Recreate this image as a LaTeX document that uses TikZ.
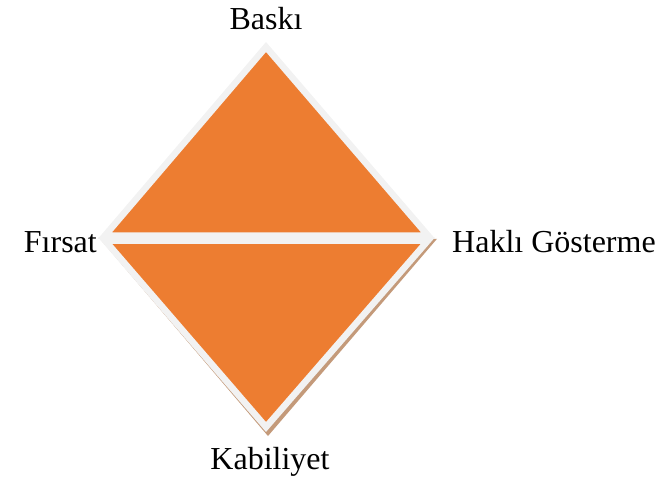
\documentclass[tikz,border=0pt]{standalone}
\usepackage{fontspec}
\setmainfont{Liberation Serif}
\definecolor{orng}{HTML}{ED7D31}
\definecolor{edge}{HTML}{F2F2F2}
\definecolor{shad}{HTML}{C49A7A}
\begin{document}
\begin{tikzpicture}[x=1pt,y=-1pt,
  tri/.style={fill=orng,draw=edge,line width=6.5pt,line join=miter},
  lbl/.style={font=\fontsize{32}{38}\selectfont,inner sep=0pt}]
\useasboundingbox (0,0) rectangle (659,482);
% shadow of lower triangle
\fill[shad] (107,242) -- (430,242) -- (268,431) -- cycle;
\draw[shad,line width=6.5pt,line join=miter] (107,242) -- (430,242) -- (268,431) -- cycle;
% triangles
\draw[tri] (266,47) -- (428,235.5) -- (105,235.5) -- cycle;
\draw[tri] (105,240.5) -- (428,240.5) -- (266,427) -- cycle;
% labels
\node[lbl] (b) at (266,19) {Baskı};
\node[lbl,anchor=east] (f) at (97,242) {Fırsat};
\node[lbl,anchor=west] (h) at (452,242) {Haklı Gösterme};
\node[lbl] (k) at (270,462) {Kabiliyet};
\end{tikzpicture}
\end{document}
